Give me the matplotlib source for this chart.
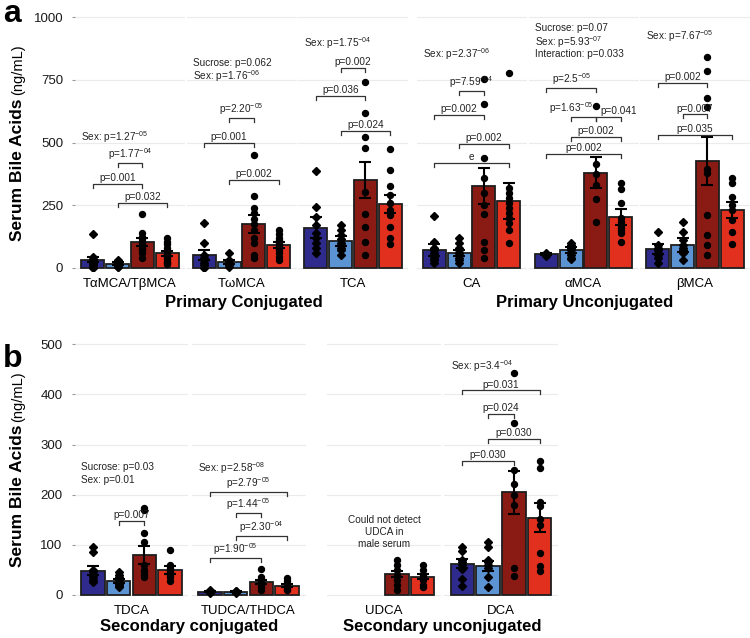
import numpy as np
import matplotlib.pyplot as plt

plt.rcParams['font.family'] = ['Liberation Sans', 'DejaVu Sans']
plt.rcParams['mathtext.fontset'] = 'custom'
plt.rcParams['mathtext.rm'] = 'Liberation Sans'
plt.rcParams['mathtext.it'] = 'Liberation Sans:italic'
plt.rcParams['mathtext.bf'] = 'Liberation Sans:bold'

W, H = 750, 638

# group order: dark blue, light blue, dark red, red
colors = ['#2e2b8c', '#5b93d3', '#8a1b14', '#e2301f']
markers = ['D', 'D', 'o', 'o']

# ---------------- panel a ----------------
cats_a = ['TαMCA/TβMCA', 'TωMCA', 'TCA', 'CA', 'αMCA', 'βMCA']
means_a = [[33, 17, 103, 58],
           [52, 25, 175, 90],
           [160, 107, 352, 255],
           [72, 61, 327, 267],
           [55, 70, 380, 203],
           [75, 92, 425, 231]]
sems_a = [[10, 5, 15, 10],
          [20, 8, 35, 12],
          [42, 20, 72, 35],
          [25, 12, 73, 70],
          [5, 12, 62, 32],
          [20, 28, 95, 32]]
points_a = [
    [[135, 45, 35, 25, 20, 15, 10, 5, 0],
     [32, 25, 20, 15, 12, 10, 8, 5, 3],
     [215, 140, 125, 115, 105, 95, 90, 80, 70, 60, 40],
     [120, 105, 95, 80, 65, 55, 45, 35, 25, 20, 15]],
    [[180, 100, 50, 40, 30, 20, 10, 0],
     [60, 30, 20, 15, 10, 5],
     [450, 287, 240, 220, 195, 175, 150, 120, 100, 50, 40],
     [150, 135, 120, 110, 100, 90, 80, 70, 60, 45, 30]],
    [[388, 245, 205, 170, 140, 120, 100, 80, 60],
     [170, 150, 130, 115, 100, 90, 80, 70, 50],
     [742, 617, 523, 479, 304, 215, 165, 103, 50],
     [473, 390, 327, 290, 260, 230, 211, 165, 120, 96]],
    [[207, 105, 80, 70, 60, 50, 40, 30, 20],
     [120, 100, 80, 70, 60, 50, 40, 30, 20],
     [753, 653, 440, 360, 300, 250, 215, 105, 72, 40],
     [777, 320, 300, 280, 260, 240, 220, 200, 180, 150, 100]],
    [[60, 57, 55, 52, 50, 48],
     [100, 90, 80, 70, 60, 50, 40, 35],
     [645, 414, 375, 330, 275, 183],
     [340, 314, 260, 200, 185, 170, 160, 150, 140, 105]],
    [[145, 92, 80, 70, 60, 50, 40, 20],
     [185, 145, 110, 90, 80, 72, 60, 32],
     [840, 785, 677, 643, 394, 378, 211, 131, 92, 50],
     [358, 340, 284, 250, 230, 191, 145, 96]],
]
# (from bar, to bar, height, label, text shift in points)
brackets_a = [
    [(1, 2, 420, 'p=1.77$^{-04}$', 0), (0, 2, 335, 'p=0.001', 0), (1, 3, 259, 'p=0.032', 0)],
    [(1, 2, 598, 'p=2.20$^{-05}$', 0), (0, 2, 499, 'p=0.001', 0), (1, 3, 351, 'p=0.002', 0)],
    [(1, 2, 797, 'p=0.002', 0), (0, 2, 687, 'p=0.036', 0), (1, 3, 547, 'p=0.024', 0)],
    [(1, 2, 706, 'p=7.59$^{-04}$', 0), (0, 2, 610, 'p=0.002', 0), (1, 3, 493, 'p=0.002', 0),
     (0, 3, 418, 'e', 0)],
    [(0, 2, 718, 'p=2.5$^{-05}$', 0), (1, 2, 603, 'p=1.63$^{-05}$', -9),
     (2, 3, 603, 'p=0.041', 7.5), (1, 3, 523, 'p=0.002', 0), (0, 3, 453, 'p=0.002', 0)],
    [(0, 2, 736, 'p=0.002', 0), (1, 2, 612, 'p=0.007', 0), (0, 3, 530, 'p=0.035', 0)],
]
stats_a = [
    (['Sex: p=1.27$^{-05}$'], 530),
    (['Sucrose: p=0.062', 'Sex: p=1.76$^{-06}$'], 822),
    (['Sex: p=1.75$^{-04}$'], 905),
    (['Sex: p=2.37$^{-06}$'], 860),
    (['Sucrose: p=0.07', 'Sex: p=5.93$^{-07}$', 'Interaction: p=0.033'], 960),
    (['Sex: p=7.67$^{-05}$'], 932),
]

# ---------------- panel b ----------------
nan = np.nan
cats_b = ['TDCA', 'TUDCA/THDCA', 'UDCA', 'DCA']
means_b = [[48, 27, 80, 50],
           [6, 6, 25, 18],
           [nan, nan, 42, 36],
           [62, 58, 205, 154]]
sems_b = [[9, 4, 18, 8],
          [1, 1, 4, 3],
          [nan, nan, 6, 5],
          [9, 10, 43, 29]]
points_b = [
    [[96, 86, 50, 45, 40, 35, 30, 25],
     [45, 40, 35, 30, 25, 22, 20, 18, 15],
     [173, 170, 124, 105, 60, 50, 45, 40, 35],
     [90, 60, 54, 50, 45, 40, 35, 28]],
    [[10, 8, 6, 5, 4],
     [8, 7, 6, 5, 4],
     [52, 35, 30, 25, 20, 15, 10],
     [33, 28, 20, 15, 12, 10]],
    [[], [],
     [70, 60, 50, 40, 30, 20, 10],
     [60, 50, 40, 35, 30, 20, 15]],
    [[96, 88, 70, 65, 60, 52, 32, 18],
     [105, 96, 70, 65, 60, 54, 35, 15],
     [442, 343, 250, 222, 200, 180, 54, 38],
     [267, 253, 185, 178, 152, 140, 83, 58, 48]],
]
brackets_b = [
    [(1, 2, 148, 'p=0.007', 0)],
    [(0, 3, 206, 'p=2.79$^{-05}$', 0), (1, 2, 163, 'p=1.44$^{-05}$', 0),
     (1, 3, 118, 'p=2.30$^{-04}$', 0), (0, 2, 74, 'p=1.90$^{-05}$', 0)],
    [],
    [(0, 3, 408, 'p=0.031', 0), (1, 2, 362, 'p=0.024', 0), (1, 3, 311, 'p=0.030', 0),
     (0, 2, 267, 'p=0.030', 0)],
]
stats_b = [
    (['Sucrose: p=0.03', 'Sex: p=0.01'], 256),
    (['Sex: p=2.58$^{-08}$'], 256),
    ([], 0),
    (['Sex: p=3.4$^{-04}$'], 460),
]

fig = plt.figure(figsize=(W / 100, H / 100), dpi=100)


def add_px_axes(cx, width, top, bottom):
    return fig.add_axes([(cx - width / 2) / W, 1 - bottom / H, width / W, (bottom - top) / H])


def draw_facet(ax, name, means, sems, pts, brackets, stats, ylim, yticks, px_unit, first):
    x = np.arange(4)
    means = np.array(means, dtype=float)
    sems = np.array(sems, dtype=float)
    ok = ~np.isnan(means)
    ax.set_xlim(-0.72, 3.72)
    ax.set_ylim(*ylim)
    ax.set_yticks(yticks)
    ax.grid(axis='y', color='#ebebeb', lw=0.8)
    ax.set_axisbelow(True)
    for s in ax.spines.values():
        s.set_visible(False)
    ax.bar(x[ok], means[ok], width=0.92, color=[colors[i] for i in x[ok]],
           edgecolor='#1e1e1e', linewidth=1.3, zorder=2)
    for i in range(4):
        if len(pts[i]):
            ax.plot([i] * len(pts[i]), pts[i], ls='none', marker=markers[i],
                    ms=3.6 if markers[i] == 'D' else 4.3, color='black', zorder=3)
    ax.errorbar(x[ok], means[ok], yerr=sems[ok], fmt='none', ecolor='black',
                elinewidth=1.5, capsize=4.5, capthick=1.5, zorder=4)

    tick = 4 / px_unit
    for i, j, y, lab, dx in brackets:
        ax.plot([i, i, j, j], [y - tick, y, y, y - tick], color='#333333', lw=0.9,
                zorder=5, clip_on=False)
        ax.annotate(lab, xy=((i + j) / 2, y), xytext=(dx, 0.6), textcoords='offset points',
                    ha='center', va='bottom', fontsize=7.2, color='#222222')
    lines, y0 = stats
    for k, line in enumerate(lines):
        ax.annotate(line, xy=(-0.46, y0), xytext=(0, -k * 9.2), textcoords='offset points',
                    ha='left', va='center_baseline', fontsize=7.2, color='#222222')

    ax.set_xticks([1.5], [name])
    ax.tick_params(axis='x', length=0, pad=5.5, labelsize=9.5)
    if first:
        ax.tick_params(axis='y', length=2.5, color='#999999', pad=6, labelsize=9.5,
                       labelcolor='#1a1a1a')
    else:
        ax.tick_params(axis='y', left=False, labelleft=False)


# panel a: one facet per bile acid
centers_a = [130, 241.5, 353, 471.5, 583.5, 695]
for k, cx in enumerate(centers_a):
    ax = add_px_axes(cx, 110, 7, 270.5)
    draw_facet(ax, cats_a[k], means_a[k], sems_a[k], points_a[k], brackets_a[k], stats_a[k],
               (-10, 1040), [0, 250, 500, 750, 1000], 0.251, k == 0)

# panel b
centers_b = [131.5, 248.5, 384, 501]
for k, cx in enumerate(centers_b):
    ax = add_px_axes(cx, 114, 339.5, 597)
    draw_facet(ax, cats_b[k], means_b[k], sems_b[k], points_b[k], brackets_b[k], stats_b[k],
               (-5, 510), [0, 100, 200, 300, 400, 500], 0.5, k == 0)
    if cats_b[k] == 'UDCA':
        ax.text(1.5, 125, 'Could not detect\nUDCA in\nmale serum', ha='center', va='center',
                fontsize=7.2, color='#222222', linespacing=1.2)

# group labels
fig.text(244 / W, 1 - 302 / H, 'Primary Conjugated', ha='center', va='center',
         fontsize=12, fontweight='bold')
fig.text(584.5 / W, 1 - 302 / H, 'Primary Unconjugated', ha='center', va='center',
         fontsize=12, fontweight='bold')
fig.text(189 / W, 1 - 627 / H, 'Secondary conjugated', ha='center', va='center',
         fontsize=12, fontweight='bold')
fig.text(442 / W, 1 - 627 / H, 'Secondary unconjugated', ha='center', va='center',
         fontsize=12, fontweight='bold')

# panel letters
fig.text(3 / W, 1 - 22 / H, 'a', fontsize=23, fontweight='bold', va='baseline')
fig.text(3 / W, 1 - 367 / H, 'b', fontsize=23, fontweight='bold', va='baseline')

# y labels: bold part + units
renderer = fig.canvas.get_renderer()
for cy in (142.5, 469):
    t1 = fig.text(18 / W, 0, 'Serum Bile Acids', rotation=90, fontweight='bold',
                  fontsize=12.5, ha='center', va='bottom')
    t2 = fig.text(18 / W, 0, '(ng/mL)', rotation=90, fontsize=10.5, ha='center', va='bottom')
    h1 = t1.get_window_extent(renderer).height
    h2 = t2.get_window_extent(renderer).height
    gap = 3
    bottom = cy + (h1 + gap + h2) / 2
    t1.set_y(1 - bottom / H)
    t2.set_y(1 - (bottom - h1 - gap) / H)

fig.savefig('out.png', dpi=100)
